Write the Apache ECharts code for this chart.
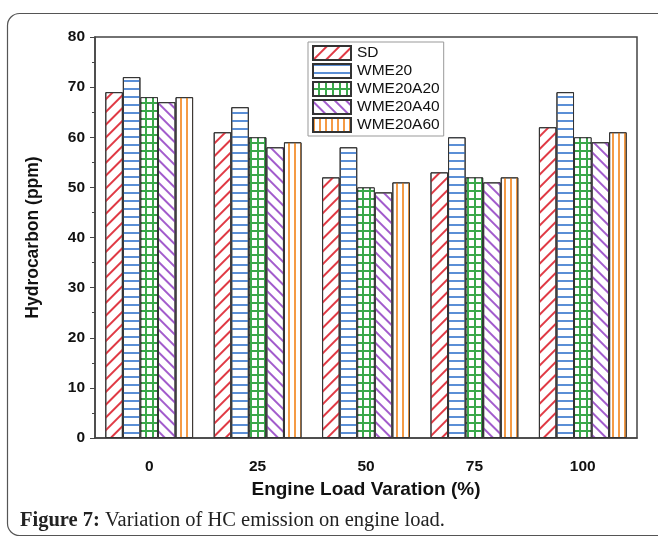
<!DOCTYPE html>
<html>
<head>
    <meta charset="utf-8">
    <title>Hydrocarbon vs engine load</title>
    <script src="https://cdn.jsdelivr.net/npm/echarts@6/dist/echarts.min.js"></script>
    <style>
        body { margin: 0; background: #fff; }
    </style>
</head>
<body>
    <div id="main" style="width: 658px;height:538px;"></div>
    <script type="text/javascript">
        // data
        var loads = ['0', '25', '50', '75', '100'];
        var sd        = [69, 61, 52, 53, 62];
        var wme20     = [72, 66, 58, 60, 69];
        var wme20a20  = [68, 60, 50, 52, 60];
        var wme20a40  = [67, 58, 49, 51, 59];
        var wme20a60  = [68, 59, 51, 52, 61];
        var yTicks = [0, 10, 20, 30, 40, 50, 60, 70, 80];

        var myChart = echarts.init(document.getElementById('main'));

        function barSeries(name, data, fill, decal) {
            return {
                name: name,
                type: 'bar',
                data: data,
                barGap: '0%',
                barCategoryGap: '19%',
                itemStyle: {
                    color: fill,
                    borderColor: '#333',
                    borderWidth: 1,
                    decal: decal
                }
            };
        }

        myChart.setOption({
            animation: false,
            backgroundColor: '#fff',
            textStyle: { fontFamily: 'Liberation Sans, Arial, sans-serif' },
            graphic: [
                {
                    type: 'rect',
                    shape: { x: 7.5, y: 13.5, width: 700, height: 522, r: 12 },
                    style: { fill: 'none', stroke: '#555', lineWidth: 1.2 }
                },
                {
                    type: 'text',
                    left: 20,
                    top: 510,
                    style: {
                        text: '{b|Figure 7:} Variation of HC emission on engine load.',
                        rich: {
                            b: { fontWeight: 'bold', fontFamily: 'Liberation Serif', fontSize: 20.5, fill: '#222' }
                        },
                        fontFamily: 'Liberation Serif',
                        fontSize: 20.5,
                        fill: '#222'
                    }
                }
            ],
            legend: {
                orient: 'vertical',
                left: 308,
                top: 42,
                itemWidth: 38,
                itemHeight: 14,
                itemGap: 2,
                padding: [3, 4, 3, 4],
                borderColor: '#999',
                borderWidth: 1,
                icon: 'rect',
                textStyle: { fontSize: 15.5, lineHeight: 15.5, color: '#111', padding: [0, 0, 0, 1] },
                data: ['SD', 'WME20', 'WME20A20', 'WME20A40', 'WME20A60']
            },
            grid: {
                left: 95,
                right: 21,
                top: 37,
                bottom: 100,
                show: true,
                borderColor: '#444',
                borderWidth: 1.5
            },
            xAxis: {
                type: 'category',
                data: loads,
                name: 'Engine Load Varation (%)',
                nameLocation: 'middle',
                nameGap: 41,
                nameTextStyle: { fontSize: 19, fontWeight: 'bold', color: '#111' },
                axisLine: { lineStyle: { color: '#444', width: 1.5 } },
                axisTick: { lineStyle: { color: '#444' }, length: 4 },
                axisLabel: { fontSize: 15.5, fontWeight: 'bold', color: '#111', margin: 21 }
            },
            yAxis: {
                type: 'value',
                min: yTicks[0],
                max: yTicks[yTicks.length - 1],
                interval: 10,
                name: 'Hydrocarbon (ppm)',
                nameLocation: 'middle',
                nameGap: 53,
                nameTextStyle: { fontSize: 17.5, fontWeight: 'bold', color: '#111' },
                splitLine: { show: false },
                axisLine: { show: true, lineStyle: { color: '#444', width: 1.5 } },
                axisTick: { show: true, length: 5, lineStyle: { color: '#444' } },
                minorTick: { show: true, splitNumber: 2, length: 3, lineStyle: { color: '#444' } },
                axisLabel: { fontSize: 15.5, fontWeight: 'bold', color: '#111', margin: 10 }
            },
            series: [
                barSeries('SD', sd, '#fff', {
                    symbol: 'rect', symbolSize: 1, color: '#e03a45',
                    dashArrayX: [1, 0], dashArrayY: [1.5, 7], rotation: -Math.PI / 4
                }),
                barSeries('WME20', wme20, '#fff', {
                    symbol: 'rect', symbolSize: 1, color: '#5b8fd6',
                    dashArrayX: [1, 0], dashArrayY: [1.5, 5.5], rotation: 0
                }),
                barSeries('WME20A20', wme20a20, '#3aa84a', {
                    symbol: 'rect', symbolSize: 1, color: '#fff',
                    dashArrayX: [4.5, 1.5], dashArrayY: [5.5, 1.5], rotation: 0
                }),
                barSeries('WME20A40', wme20a40, '#fff', {
                    symbol: 'rect', symbolSize: 1, color: '#a25ccc',
                    dashArrayX: [1, 0], dashArrayY: [1.5, 6], rotation: Math.PI / 4
                }),
                barSeries('WME20A60', wme20a60, '#fff', {
                    symbol: 'rect', symbolSize: 1, color: '#f59b45',
                    dashArrayX: [1.5, 4], dashArrayY: [1, 0], rotation: 0
                })
            ]
        });
    </script>
</body>
</html>
